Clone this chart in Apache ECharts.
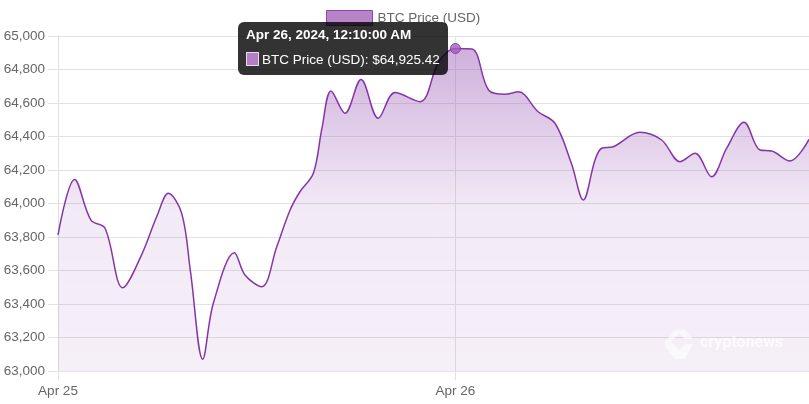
<!DOCTYPE html>
<html>
<head>
<meta charset="utf-8">
<script src="https://cdn.jsdelivr.net/npm/echarts@6/dist/echarts.min.js"></script>
<style>
  html, body { margin: 0; padding: 0; background: #fff; }
  #chart { width: 809px; height: 404px; }
</style>
</head>
<body>
<div id="chart"></div>
<script>
// ---- data (hours since Apr 25 2024 00:10, BTC price in USD) ----
const hours = [0, 1.00, 1.99, 2.84, 3.91, 5.00, 6.00, 6.66, 7.47, 8.00, 8.74, 9.38, 10.65, 11.29, 12.30,
  13.21, 14.01, 14.61, 15.42, 15.94, 16.49, 17.33, 18.30, 19.34, 20.35, 21.86, 23.00, 24.00, 25.00,
  26.00, 26.99, 27.80, 28.99, 30.01, 31.00, 31.72, 32.43, 32.83, 33.53, 35.14, 36.45, 37.56, 38.47,
  39.47, 40.38, 41.43, 42.39, 43.10, 44.20, 45.35];
const prices = [63812, 64144, 63901, 63852, 63497, 63683, 63931, 64061, 63941, 63593, 63070, 63404, 63706, 63573, 63503,
  63742, 63960, 64070, 64180, 64450, 64672, 64539, 64741, 64509, 64662, 64608, 64847, 64925.42, 64922,
  64678, 64652, 64667, 64548, 64479, 64240, 64021, 64260, 64330, 64339, 64425, 64379, 64250, 64300,
  64160, 64330, 64485, 64319, 64313, 64254, 64383];
const xTickLabels = ['Apr 25', 'Apr 26'];
const yMin = 63000, yMax = 65000, yStep = 200;
const seriesName = 'BTC Price (USD)';
const startTime = [2024, 3, 25, 0, 10]; // Apr 25 2024 00:10
const hoverIndex = 27;

const months = ['Jan','Feb','Mar','Apr','May','Jun','Jul','Aug','Sep','Oct','Nov','Dec'];
function fmtTime(h) {
  const d = new Date(startTime[0], startTime[1], startTime[2], startTime[3], startTime[4]);
  d.setTime(d.getTime() + Math.round(h * 60) * 60000);
  let hr = d.getHours(); const ampm = hr >= 12 ? 'PM' : 'AM';
  hr = hr % 12; if (hr === 0) hr = 12;
  const mm = String(d.getMinutes()).padStart(2, '0');
  const ss = String(d.getSeconds()).padStart(2, '0');
  return months[d.getMonth()] + ' ' + d.getDate() + ', ' + d.getFullYear() + ', ' + hr + ':' + mm + ':' + ss + ' ' + ampm;
}
function fmtNum(v, dec) {
  return v.toLocaleString('en-US', {minimumFractionDigits: dec, maximumFractionDigits: dec});
}

const FONT = '"Liberation Sans", Arial, sans-serif';
const chart = echarts.init(document.getElementById('chart'), null, {renderer: 'canvas'});
const lineData = hours.map((h, i) => [h, prices[i]]);

chart.setOption({
  animation: false,
  textStyle: { fontFamily: FONT },
  grid: { left: 58, right: 0, top: 36, bottom: 33, containLabel: false },
  legend: {
    top: 10, left: 326, padding: 0,
    itemWidth: 46, itemHeight: 15, itemGap: 10,
    icon: 'rect',
    itemStyle: { color: '#b784c8', borderColor: '#8e44ad', borderWidth: 1 },
    textStyle: { color: '#666', fontSize: 13.5, fontFamily: FONT },
    data: [seriesName]
  },
  tooltip: {
    trigger: 'axis',
    triggerOn: 'none',
    alwaysShowContent: true,
    axisPointer: { type: 'none' },
    position: function () { return [238, 22]; },
    backgroundColor: 'rgba(0,0,0,0.8)',
    borderWidth: 0,
    padding: [5, 8, 7, 8],
    extraCssText: 'border-radius:6px;box-shadow:none;',
    formatter: function () {
      const h = hours[hoverIndex], v = prices[hoverIndex];
      return '<div style="font:bold 13.5px ' + FONT.replace(/"/g, "'") + ';color:#fff;line-height:16px;white-space:nowrap">' + fmtTime(h) + '</div>' +
        '<div style="margin-top:9px;font:13.5px ' + FONT.replace(/"/g, "'") + ';color:#fff;line-height:16px;white-space:nowrap">' +
        '<span style="display:inline-block;width:11px;height:12px;background:#b47fc5;border:1px solid #e8dcec;vertical-align:-2px;margin-right:3px"></span>' +
        seriesName + ': $' + fmtNum(v, 2) + '</div>';
    }
  },
  xAxis: {
    type: 'value',
    min: 0, max: hours[hours.length - 1], interval: 24,
    axisLine: { show: true, lineStyle: { color: '#e3e3e3' } },
    axisTick: { show: true, length: 9, lineStyle: { color: '#e3e3e3' } },
    splitLine: { show: true, lineStyle: { color: '#e3e3e3' } },
    axisLabel: {
      color: '#666', fontSize: 13.5, margin: 13, showMaxLabel: false,
      formatter: function (v) { const k = Math.round(v / 24); return xTickLabels[k] || ''; }
    }
  },
  yAxis: {
    type: 'value',
    min: yMin, max: yMax, interval: yStep,
    axisLine: { show: true, lineStyle: { color: '#e0e0e0' } },
    axisTick: { show: true, length: 10, lineStyle: { color: '#e3e3e3' } },
    splitLine: { show: true, lineStyle: { color: '#e3e3e3' } },
    axisLabel: { color: '#666', fontSize: 13.5, margin: 13, formatter: v => fmtNum(v, 0) }
  },
  graphic: [
    { type: 'polygon', left: 665, top: 330, z: 100,
      shape: { points: [[10,0],[20,0],[28,9],[20,9],[14,3],[6,12],[14,20],[20,14],[28,14],[20,29],[10,29],[0,17],[0,12]] },
      style: { fill: 'rgba(255,255,255,0.6)' } },
    { type: 'text', left: 700, top: 335, z: 100,
      style: { text: 'cryptonews', fill: 'rgba(255,255,255,0.7)', font: 'bold 16px Roboto, sans-serif' } }
  ],
  series: [
    {
      name: seriesName,
      type: 'line',
      data: lineData,
      smooth: 0.35,
      showSymbol: false,
      symbol: 'none',
      lineStyle: { color: '#8536a6', width: 1.5 },
      itemStyle: { color: '#8e44ad' },
      areaStyle: {
        color: new echarts.graphic.LinearGradient(0, 0, 0, 1, [
          { offset: 0, color: 'rgba(142,68,173,0.6)' },
          { offset: 0.5, color: 'rgba(142,68,173,0.16)' },
          { offset: 1, color: 'rgba(142,68,173,0.12)' }
        ])
      },
      emphasis: { disabled: true },
      z: 2
    },
    {
      name: 'hover',
      type: 'scatter',
      data: [[hours[hoverIndex], prices[hoverIndex]]],
      symbolSize: 10,
      itemStyle: { color: '#a45cc0', borderColor: '#7d2f9e', borderWidth: 1 },
      emphasis: { disabled: true },
      z: 5
    }
  ]
});
chart.dispatchAction({ type: 'showTip', seriesIndex: 0, dataIndex: hoverIndex });
</script>
</body>
</html>
